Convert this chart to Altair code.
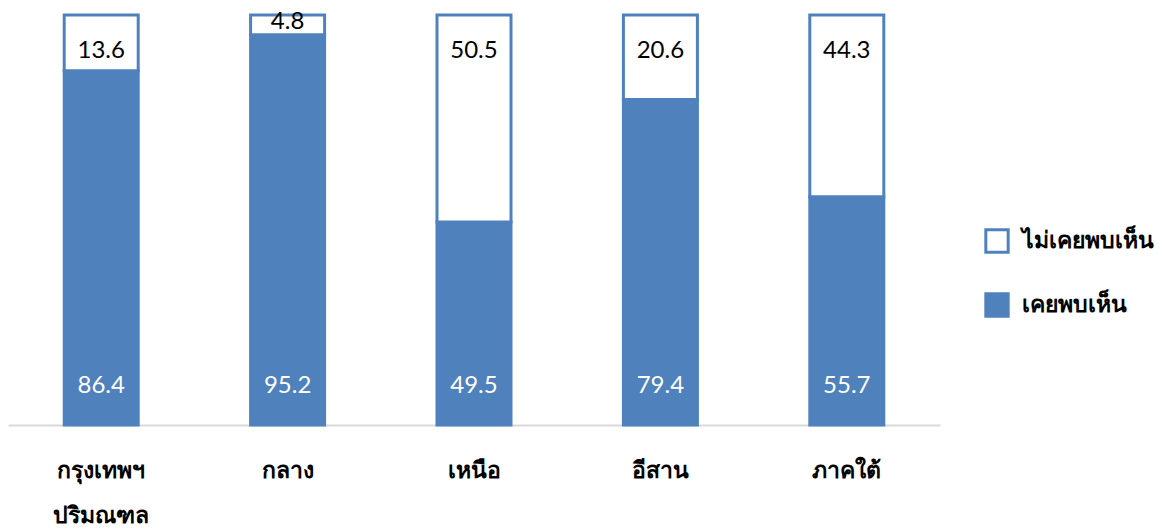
import altair as alt
import pandas as pd

regions = ["กรุงเทพฯ\nปริมณฑล", "กลาง", "เหนือ", "อีสาน", "ภาคใต้"]
seen = [86.4, 95.2, 49.5, 79.4, 55.7]
not_seen = [13.6, 4.8, 50.5, 20.6, 44.3]
series = ["ไม่เคยพบเห็น", "เคยพบเห็น"]

BLUE = "#4F81BD"

rows = []
for r, s, n in zip(regions, seen, not_seen):
    rows.append({"region": r, "group": series[1], "value": s, "ord": 0})
    rows.append({"region": r, "group": series[0], "value": n, "ord": 1})
df = pd.DataFrame(rows)

xenc = alt.X("region:N", sort=regions, title=None,
             scale=alt.Scale(paddingInner=0.6, paddingOuter=0.3),
             axis=alt.Axis(labelExpr="split(datum.label, '\\n')", labelAngle=0,
                           labelFontSize=23, labelFontWeight="bold", labelColor="#000000",
                           labelFont="Noto Sans", labelPadding=45, labelLineHeight=45,
                           ticks=False, domainColor="#D9D9D9", domainWidth=2,
                           labelBaseline="middle"))

bars = alt.Chart(df).mark_bar(strokeWidth=3, width=74).encode(
    x=xenc,
    y=alt.Y("value:Q", stack="zero", scale=alt.Scale(domain=[0, 100], nice=False), axis=None),
    fill=alt.Fill("group:N", scale=alt.Scale(domain=series, range=["#FFFFFF", BLUE]),
                  legend=alt.Legend(title=None, orient="none", legendX=976, legendY=213,
                                    symbolType="square", symbolSize=500, symbolStrokeWidth=3,
                                    labelFontSize=23, labelFontWeight="bold", labelFont="Noto Sans",
                                    labelColor="#000000", rowPadding=28, labelOffset=12)),
    stroke=alt.Stroke("group:N", scale=alt.Scale(domain=series, range=[BLUE, BLUE]), legend=None),
    order=alt.Order("ord:Q"),
)

top_labels = alt.Chart(df[df["group"] == series[0]]).transform_calculate(
    pos="100 - min(datum.value - 3.1, 8.7)"
).mark_text(fontSize=24, font="Lato", color="#000000", baseline="middle").encode(
    x=alt.X("region:N", sort=regions),
    y=alt.Y("pos:Q"),
    text=alt.Text("value:Q", format=".1f"),
)

bottom_labels = alt.Chart(df[df["group"] == series[1]]).transform_calculate(
    pos="9.6"
).mark_text(fontSize=24, font="Lato", color="#FFFFFF", baseline="middle").encode(
    x=alt.X("region:N", sort=regions),
    y=alt.Y("pos:Q"),
    text=alt.Text("value:Q", format=".1f"),
)

chart = alt.layer(bars, top_labels, bottom_labels).properties(
    width=932, height=410,
    padding={"left": 8, "top": 15, "right": 223, "bottom": 106},
    autosize=alt.AutoSizeParams(type="none"),
    background="#FFFFFF",
).configure_view(stroke=None)

chart.save("out.html", embed_options={"renderer": "svg", "actions": False})
